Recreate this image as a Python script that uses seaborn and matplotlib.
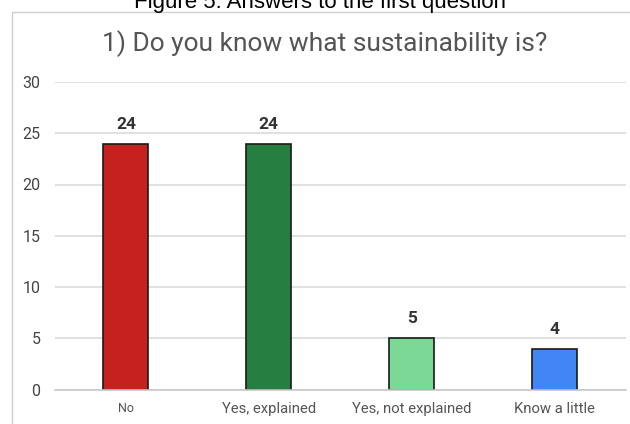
import matplotlib
matplotlib.use("Agg")
import matplotlib.pyplot as plt
from matplotlib.patches import Rectangle
import seaborn as sns
import pandas as pd

# Survey answers to question 1
categories = ["No", "Yes, explained", "Yes, not explained", "Know a little"]
counts = [24, 24, 5, 4]
bar_colors = ["#C5221F", "#267F40", "#7CD895", "#4285F4"]
y_ticks = [0, 5, 10, 15, 20, 25, 30]

sns.set_theme(style="whitegrid")
plt.rcParams["font.family"] = ["Roboto", "DejaVu Sans"]

df = pd.DataFrame({"answer": categories, "count": counts})

fig = plt.figure(figsize=(6.3, 4.24), dpi=100)
fig.patch.set_facecolor("white")

# chart card outline
fig.patches.append(Rectangle((12 / 630, -0.1), 1.2, 1 - 12 / 424 + 0.1,
                             transform=fig.transFigure, fill=False,
                             edgecolor="#CFCFCF", linewidth=1.0, zorder=0))

# caption above the card
fig.text(0.508, 1 - 8 / 424, "Figure 5: Answers to the first question",
         ha="center", va="baseline", fontsize=16, color="black",
         family=["Liberation Sans", "DejaVu Sans"])

# chart title
fig.text(0.516, 1 - 44 / 424, "1) Do you know what sustainability is?",
         ha="center", va="center", fontsize=19, color="#555555")

ax = fig.add_axes([54.5 / 630, 1 - 389.5 / 424, 571.5 / 630, 307.5 / 424])
sns.barplot(data=df, x="answer", y="count", hue="answer",
            palette=bar_colors, saturation=1, legend=False, width=0.315,
            edgecolor="#1a1a1a", linewidth=1.2, ax=ax, zorder=3)

ax.set_ylim(0, 30)
ax.set_xlim(-0.5, 3.5)
ax.set_yticks(y_ticks)
ax.set_xlabel("")
ax.set_ylabel("")
ax.set_facecolor("white")
ax.grid(axis="y", color="#DADADA", linewidth=1.2)
ax.grid(axis="x", visible=False)
for side in ["top", "right", "left"]:
    ax.spines[side].set_visible(False)
ax.spines["bottom"].set_color("#C8C8C8")
ax.spines["bottom"].set_linewidth(1.2)
ax.spines["bottom"].set_zorder(4)

ax.tick_params(axis="y", length=0, pad=10, labelsize=11.5, labelcolor="#444444")
ax.tick_params(axis="x", length=0, pad=9, labelsize=10.7, labelcolor="#555555")
for lbl in ax.get_xticklabels():
    if lbl.get_text() == "No":
        lbl.set_fontsize(9)

for i, v in enumerate(counts):
    ax.annotate(str(v), (i, v), xytext=(0, 8.5), textcoords="offset points",
                ha="center", va="bottom", fontsize=12.5, fontweight="bold",
                color="#333333")

fig.savefig("out.png", dpi=100, facecolor="white")
